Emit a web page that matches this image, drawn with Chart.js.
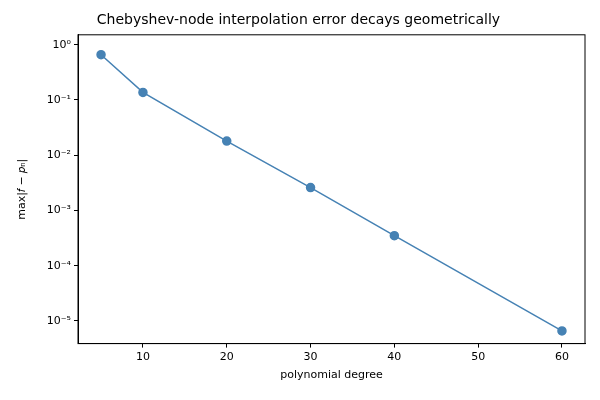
<!DOCTYPE html>
<html><head><meta charset="utf-8">
<script src="https://cdn.jsdelivr.net/npm/chart.js@4"></script>
<style>body{margin:0;background:#fff}#w{width:600px;height:400px}</style>
</head><body><div id="w"><canvas id="c"></canvas></div>
<script>
const degrees = [5, 10, 20, 30, 40, 60];
const maxError = [0.66, 0.137, 0.018, 0.0026, 0.00035, 0.0000066];
const yTickPowers = [0, -1, -2, -3, -4, -5];
const xTicks = [10, 20, 30, 40, 50, 60];
const sup = {'-':'⁻','0':'⁰','1':'¹','2':'²','3':'³','4':'⁴','5':'⁵'};
const font = {family:'DejaVu Sans', size:11};
Chart.defaults.color = '#000';
new Chart(document.getElementById('c'), {
  type:'line',
  data:{datasets:[{data:degrees.map((d,i)=>({x:d,y:maxError[i]})),
    borderColor:'#4682b4', backgroundColor:'#4682b4', borderWidth:1.5,
    pointRadius:4, pointHoverRadius:4, tension:0}]},
  options:{
    responsive:true, maintainAspectRatio:false, animation:false,
    layout:{padding:{top:0,right:15,bottom:14,left:12}},
    plugins:{legend:{display:false},tooltip:{enabled:false},
      title:{display:true,text:'Chebyshev-node interpolation error decays geometrically',
        font:{family:'DejaVu Sans',size:14,weight:'normal'},padding:{top:12,bottom:6},color:'#000'}},
    scales:{
      x:{type:'linear',min:2.25,max:62.75,
        afterBuildTicks:a=>{a.ticks=xTicks.map(v=>({value:v}));},
        grid:{display:true,drawOnChartArea:false,drawTicks:true,tickLength:4,tickColor:'#000'},
        border:{color:'#000'},
        ticks:{font,padding:3,maxRotation:0},
        title:{display:true,text:'polynomial degree',font:{family:'DejaVu Sans',size:11},padding:{top:2}}},
      y:{type:'logarithmic',min:Math.pow(10,-5.41),max:Math.pow(10,0.18),
        afterBuildTicks:a=>{a.ticks=yTickPowers.map(p=>({value:Math.pow(10,p)}));},
        afterFit:a=>{a.width=66;},
        grid:{display:true,drawOnChartArea:false,drawTicks:true,tickLength:4,tickColor:'#000'},
        border:{color:'#000'},
        ticks:{font,padding:3,callback:v=>{const p=Math.round(Math.log10(v));return '10'+String(p).split('').map(c=>sup[c]).join('');}},
        title:{display:true,text:'max|𝑓 − 𝑝ₙ|',font:{family:'DejaVu Sans',size:11},padding:{bottom:2}}}
    }
  },
  plugins:[{id:'frame',afterDraw(ch){const {ctx,chartArea:a}=ch;ctx.save();ctx.strokeStyle='#000';ctx.lineWidth=1;ctx.strokeRect(a.left,a.top,a.right-a.left,a.bottom-a.top);ctx.restore();}}]
});
</script></body></html>
